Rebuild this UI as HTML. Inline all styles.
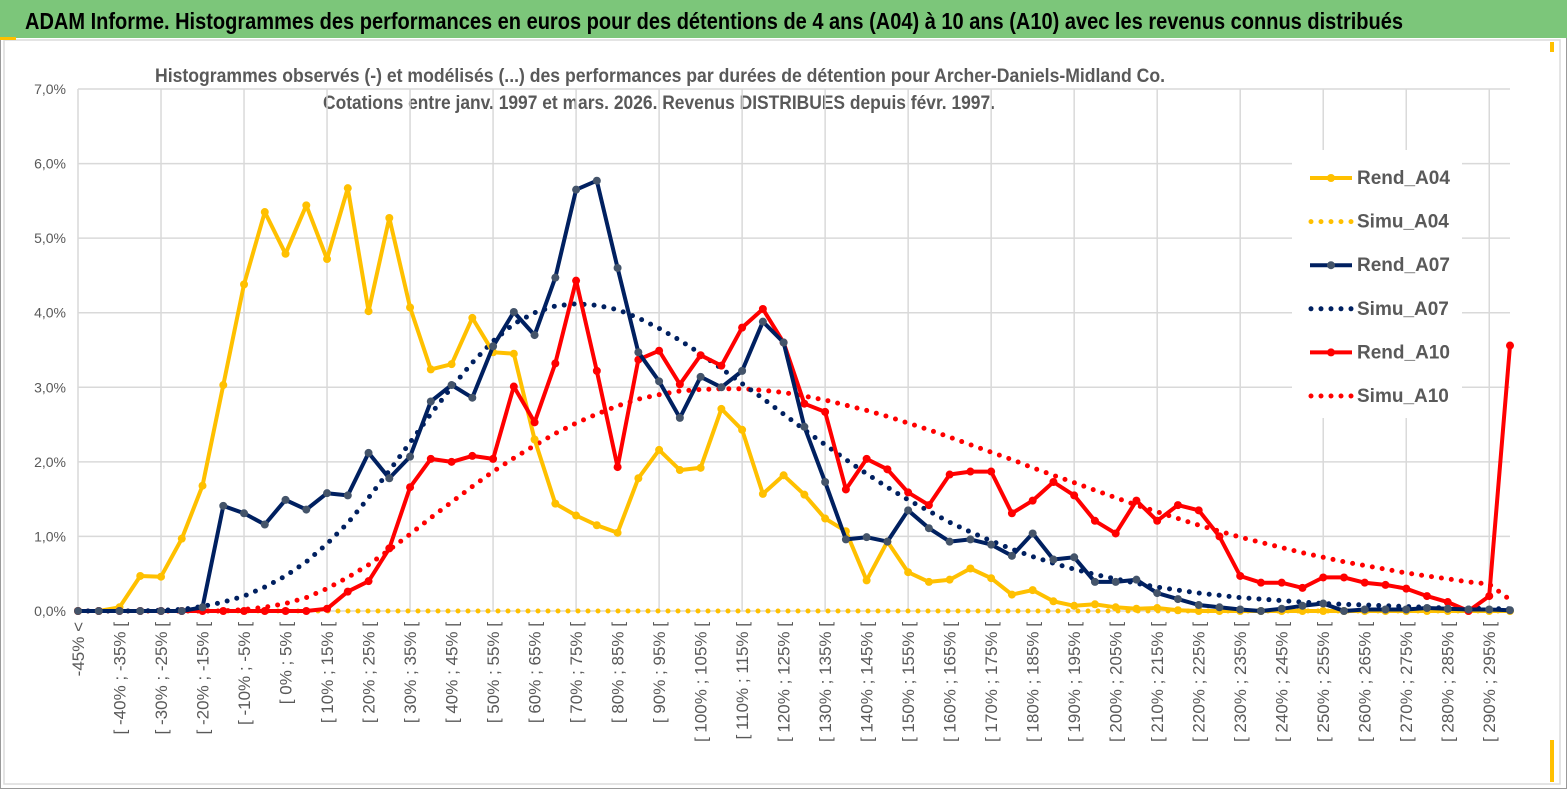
<!DOCTYPE html>
<html><head><meta charset="utf-8"><style>
html,body{margin:0;padding:0;background:#fff;}
svg{display:block;font-family:"Liberation Sans Narrow","Liberation Sans",sans-serif;}
</style></head><body>
<svg id="chart" width="1567" height="789" viewBox="0 0 1567 789" xmlns="http://www.w3.org/2000/svg">
<rect x="0" y="0" width="1567" height="789" fill="#fff" stroke="#9a9a9a" stroke-width="2"/>
<rect x="0" y="0" width="1567" height="38" fill="#7cc67a"/>
<text x="25" y="29" font-size="23" font-weight="bold" fill="#000" textLength="1378" lengthAdjust="spacingAndGlyphs">ADAM Informe. Histogrammes des performances en euros pour des détentions de 4 ans (A04) à 10 ans (A10) avec les revenus connus distribués</text>
<rect x="4" y="40" width="1556" height="744" fill="none" stroke="#dcdcdc" stroke-width="1.5"/>
<rect x="0" y="37" width="16" height="3" fill="#ffc000"/>
<rect x="1550" y="740" width="4" height="42" fill="#ffc000"/>
<rect x="1550" y="42" width="4" height="10" fill="#ffc000"/>
<text x="660" y="82" font-size="19" font-weight="bold" fill="#595959" text-anchor="middle" textLength="1010" lengthAdjust="spacingAndGlyphs">Histogrammes observés (-) et modélisés (...)  des performances par durées de détention pour Archer-Daniels-Midland Co.</text>
<text x="659" y="109" font-size="19" font-weight="bold" fill="#595959" text-anchor="middle" textLength="672" lengthAdjust="spacingAndGlyphs">Cotations entre janv. 1997 et mars. 2026. Revenus DISTRIBUES depuis févr. 1997.</text>
<g id="grid"></g>
<g id="yticks"></g>
<g id="xticks"></g>
<g id="series"></g>
<g id="legend"></g>
</svg>
<script>
const categories = ["-45% <"];
for (let a = -45; a <= 290; a += 5) categories.push("[ " + a + "% ; " + (a + 5) + "% [");
categories.push("> 295%");
const yTicks = [0,1,2,3,4,5,6,7];
const yTickLabels = ["0,0%","1,0%","2,0%","3,0%","4,0%","5,0%","6,0%","7,0%"];
const rendA04 = [0,0,0.05,0.47,0.46,0.97,1.68,3.03,4.38,5.35,4.79,5.44,4.72,5.67,4.02,5.27,4.07,3.24,3.31,3.93,3.47,3.45,2.30,1.44,1.28,1.15,1.05,1.78,2.16,1.89,1.92,2.71,2.43,1.57,1.82,1.56,1.24,1.07,0.41,0.93,0.52,0.39,0.42,0.57,0.44,0.22,0.28,0.13,0.07,0.09,0.05,0.03,0.04,0.01,0,0,0,0,0,0,0,0,0,0,0,0,0,0,0,0];
const simuA04 = [0,0,0,0,0,0,0,0,0,0,0,0,0,0,0,0,0,0,0,0,0,0,0,0,0,0,0,0,0,0,0,0,0,0,0,0,0,0,0,0,0,0,0,0,0,0,0,0,0,0,0,0,0,0,0,0,0,0,0,0,0,0,0,0,0,0,0,0,0,0];
const rendA07 = [0,0,0,0,0,0,0.05,1.41,1.31,1.16,1.49,1.36,1.58,1.55,2.12,1.78,2.07,2.81,3.03,2.86,3.55,4.01,3.70,4.47,5.65,5.77,4.60,3.47,3.08,2.59,3.14,3.00,3.22,3.88,3.60,2.47,1.73,0.96,0.99,0.93,1.35,1.11,0.93,0.96,0.89,0.74,1.04,0.69,0.72,0.39,0.39,0.42,0.24,0.16,0.08,0.05,0.02,0,0.03,0.07,0.10,0,0.02,0.02,0.02,0.04,0.03,0.02,0.02,0.01];
const simuA07 = [0,0,0,0,0.01,0.02,0.06,0.12,0.20,0.32,0.47,0.66,0.90,1.18,1.52,1.88,2.26,2.64,3.00,3.33,3.62,3.85,4.00,4.09,4.12,4.10,4.04,3.93,3.79,3.63,3.45,3.25,3.05,2.85,2.64,2.43,2.23,2.03,1.84,1.66,1.49,1.34,1.19,1.06,0.94,0.83,0.73,0.64,0.56,0.49,0.43,0.37,0.32,0.28,0.24,0.21,0.18,0.16,0.14,0.12,0.10,0.09,0.08,0.07,0.06,0.05,0.04,0.04,0.03,0.03];
const rendA10 = [0,0,0,0,0,0,0,0,0,0,0,0,0.03,0.26,0.40,0.84,1.66,2.04,2.00,2.08,2.04,3.01,2.53,3.32,4.43,3.22,1.93,3.37,3.49,3.04,3.43,3.29,3.80,4.05,3.60,2.78,2.67,1.63,2.04,1.90,1.59,1.42,1.83,1.87,1.87,1.31,1.48,1.73,1.55,1.21,1.04,1.48,1.21,1.42,1.35,1.00,0.47,0.38,0.38,0.31,0.45,0.45,0.38,0.35,0.30,0.20,0.12,0,0.20,3.56];
const simuA10 = [0,0,0,0,0,0,0,0,0.02,0.05,0.10,0.18,0.30,0.45,0.62,0.82,1.03,1.25,1.46,1.67,1.87,2.05,2.22,2.38,2.52,2.64,2.75,2.84,2.90,2.95,2.97,2.98,2.98,2.96,2.93,2.88,2.83,2.76,2.69,2.61,2.52,2.43,2.33,2.23,2.13,2.03,1.92,1.82,1.72,1.62,1.52,1.42,1.33,1.24,1.15,1.07,0.99,0.92,0.85,0.78,0.72,0.66,0.61,0.56,0.51,0.47,0.43,0.39,0.36,0.15];
const seriesNames = ["Rend_A04","Simu_A04","Rend_A07","Simu_A07","Rend_A10","Simu_A10"];

const NS = "http://www.w3.org/2000/svg";
const X0 = 78, X1 = 1510, Y0 = 611, YTOP = 89;
function xs(i){ return X0 + (X1 - X0) * i / (categories.length - 1); }
function ys(v){ return Y0 - (Y0 - YTOP) * v / 7; }
function mk(tag, attrs, parent){ const e = document.createElementNS(NS, tag); for (const k in attrs) e.setAttribute(k, attrs[k]); parent.appendChild(e); return e; }

const grid = document.getElementById("grid");
yTicks.forEach(function(t){
  const l = mk("line", {x1: X0, x2: X1, y1: ys(t), y2: ys(t), stroke: "#d9d9d9", "stroke-width": 1.5}, grid);
  
  
});
for (let i = 0; i < categories.length; i += 4) {
  const l = mk("line", {x1: xs(i), x2: xs(i), y1: YTOP, y2: Y0, stroke: "#d9d9d9", "stroke-width": 1.5}, grid);
  
  
}
const yt = document.getElementById("yticks");
yTicks.forEach(function(t, k){
  const e = mk("text", {x: 66, y: ys(t) + 5, "text-anchor": "end", "font-size": 14, fill: "#595959"}, yt);
  e.textContent = yTickLabels[k];
  
  
});
const xt = document.getElementById("xticks");
for (let i = 0; i < categories.length; i += 2) {
  const x = xs(i) + 6, y = 622;
  const e = mk("text", {x: x, y: y, "text-anchor": "end", "font-size": 17, fill: "#595959", transform: "rotate(-90 " + x + " " + y + ")"}, xt);
  e.textContent = categories[i];
  
  
}

const sg = document.getElementById("series");
function drawLine(vals, color, markerColor, name){
  const pts = vals.map(function(v, i){ return xs(i).toFixed(1) + "," + ys(v).toFixed(1); }).join(" ");
  const p = mk("polyline", {points: pts, fill: "none", stroke: color, "stroke-width": 4, "stroke-linejoin": "round"}, sg);
  
  
  vals.forEach(function(v, i){
    const c = mk("circle", {cx: xs(i), cy: ys(v), r: 4, fill: markerColor}, sg);
    
    
  });
}
function drawDots(vals, color, name){
  let d = "";
  vals.forEach(function(v, i){ d += (i ? "L" : "M") + xs(i).toFixed(1) + "," + ys(v).toFixed(1); });
  const p = mk("path", {d: d, fill: "none", stroke: color, "stroke-width": 5, "stroke-linecap": "round", "stroke-dasharray": "0 10"}, sg);
  
  
}
drawDots(simuA04, "#ffc000", "simu-a04");
drawDots(simuA10, "#ff0000", "simu-a10");
drawDots(simuA07, "#002060", "simu-a07");
drawLine(rendA04, "#ffc000", "#ffc000", "rend-a04");
drawLine(rendA10, "#ff0000", "#ff0000", "rend-a10");
drawLine(rendA07, "#002060", "#44546a", "rend-a07");

const lg = document.getElementById("legend");
const bg = mk("rect", {x: 1292, y: 150, width: 170, height: 268, fill: "#fff"}, lg);


const lColors = ["#ffc000","#ffc000","#002060","#002060","#ff0000","#ff0000"];
const lMarks = ["#ffc000",null,"#44546a",null,"#ff0000",null];
seriesNames.forEach(function(n, k){
  const y = 178 + k * 43.6;
  if (lMarks[k]) {
    const l = mk("line", {x1: 1310, x2: 1352, y1: y, y2: y, stroke: lColors[k], "stroke-width": 4}, lg);
    
    
    const c = mk("circle", {cx: 1331, cy: y, r: 4, fill: lMarks[k]}, lg);
    
    
  } else {
    const l = mk("path", {d: "M1311," + y + "L1352," + y, stroke: lColors[k], "stroke-width": 5, "stroke-linecap": "round", "stroke-dasharray": "0 10"}, lg);
    
    
  }
  const t = mk("text", {x: 1357, y: y + 6, "font-size": 19, "font-weight": "bold", fill: "#595959"}, lg);
  t.textContent = n;
  
  
});
</script>
</body></html>
